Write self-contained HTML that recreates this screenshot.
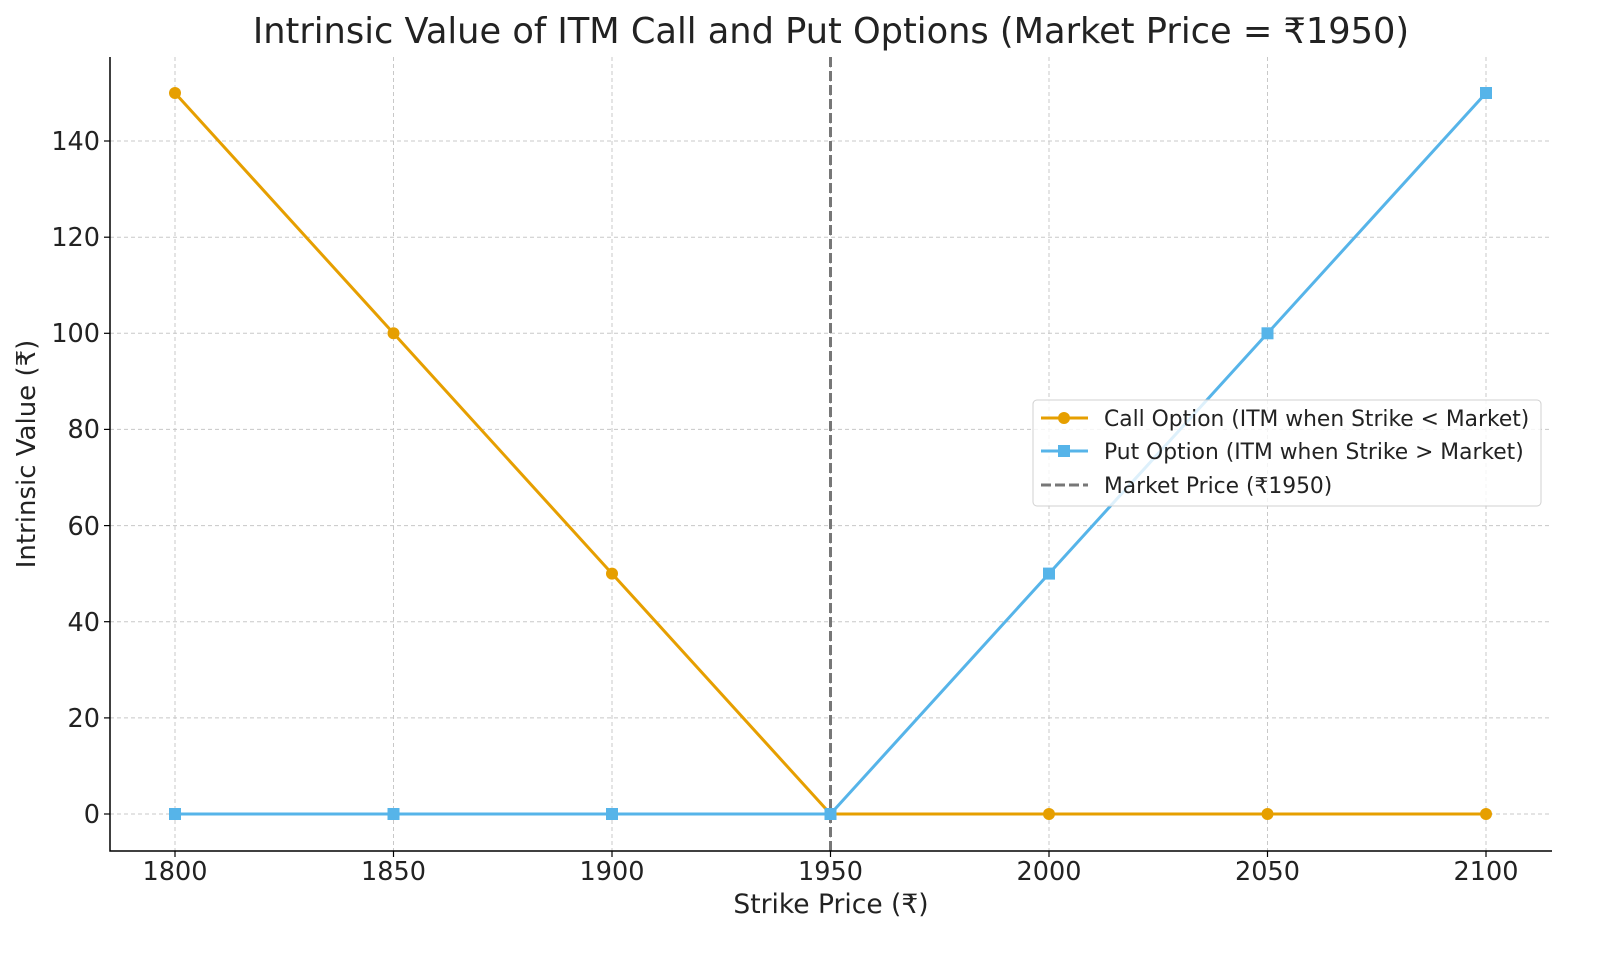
<!DOCTYPE html>
<html><head><meta charset="utf-8"><style>body{margin:0;background:#fff}svg{display:block}text{font-family:"DejaVu Sans","Liberation Sans",sans-serif;fill:#222}</style></head><body>
<svg width="1600" height="954" xmlns="http://www.w3.org/2000/svg">
<g stroke="#c8c8c8" stroke-width="1" stroke-dasharray="4,3">
<line x1="175" y1="57" x2="175" y2="851"/><line x1="393.5" y1="57" x2="393.5" y2="851"/><line x1="612" y1="57" x2="612" y2="851"/><line x1="830.5" y1="57" x2="830.5" y2="851"/><line x1="1049" y1="57" x2="1049" y2="851"/><line x1="1267.5" y1="57" x2="1267.5" y2="851"/><line x1="1486" y1="57" x2="1486" y2="851"/>
<line x1="110" y1="814" x2="1552" y2="814"/><line x1="110" y1="717.9" x2="1552" y2="717.9"/><line x1="110" y1="621.7" x2="1552" y2="621.7"/><line x1="110" y1="525.6" x2="1552" y2="525.6"/><line x1="110" y1="429.4" x2="1552" y2="429.4"/><line x1="110" y1="333.3" x2="1552" y2="333.3"/><line x1="110" y1="237.2" x2="1552" y2="237.2"/><line x1="110" y1="141" x2="1552" y2="141"/>
</g>
<line x1="830.5" y1="57" x2="830.5" y2="851" stroke="#777" stroke-width="3" stroke-dasharray="10,4"/>
<polyline fill="none" stroke="#E69F00" stroke-width="3" points="175,93 393.5,333.3 612,573.6 830.5,814 1049,814 1267.5,814 1486,814"/>
<g fill="#E69F00"><circle cx="175" cy="93" r="6"/><circle cx="393.5" cy="333.3" r="6"/><circle cx="612" cy="573.6" r="6"/><circle cx="830.5" cy="814" r="6"/><circle cx="1049" cy="814" r="6"/><circle cx="1267.5" cy="814" r="6"/><circle cx="1486" cy="814" r="6"/></g>
<polyline fill="none" stroke="#56B4E9" stroke-width="3" points="175,814 393.5,814 612,814 830.5,814 1049,573.6 1267.5,333.3 1486,93"/>
<g fill="#56B4E9"><rect x="169" y="808" width="12" height="12"/><rect x="387.5" y="808" width="12" height="12"/><rect x="606" y="808" width="12" height="12"/><rect x="824.5" y="808" width="12" height="12"/><rect x="1043" y="567.6" width="12" height="12"/><rect x="1261.5" y="327.3" width="12" height="12"/><rect x="1480" y="87" width="12" height="12"/></g>
<polyline fill="none" stroke="#000" stroke-width="1.5" points="110,57 110,851 1552,851"/>
<g stroke="#000" stroke-width="1.2">
<line x1="175" y1="851" x2="175" y2="857"/><line x1="393.5" y1="851" x2="393.5" y2="857"/><line x1="612" y1="851" x2="612" y2="857"/><line x1="830.5" y1="851" x2="830.5" y2="857"/><line x1="1049" y1="851" x2="1049" y2="857"/><line x1="1267.5" y1="851" x2="1267.5" y2="857"/><line x1="1486" y1="851" x2="1486" y2="857"/>
<line x1="104" y1="814" x2="110" y2="814"/><line x1="104" y1="717.9" x2="110" y2="717.9"/><line x1="104" y1="621.7" x2="110" y2="621.7"/><line x1="104" y1="525.6" x2="110" y2="525.6"/><line x1="104" y1="429.4" x2="110" y2="429.4"/><line x1="104" y1="333.3" x2="110" y2="333.3"/><line x1="104" y1="237.2" x2="110" y2="237.2"/><line x1="104" y1="141" x2="110" y2="141"/>
</g>
<g font-size="25.5" text-anchor="middle">
<text x="175" y="880">1800</text><text x="393.5" y="880">1850</text><text x="612" y="880">1900</text><text x="830.5" y="880">1950</text><text x="1049" y="880">2000</text><text x="1267.5" y="880">2050</text><text x="1486" y="880">2100</text>
</g>
<g font-size="25.5" text-anchor="end">
<text x="100" y="823">0</text><text x="100" y="727">20</text><text x="100" y="631">40</text><text x="100" y="535">60</text><text x="100" y="438">80</text><text x="100" y="342">100</text><text x="100" y="246">120</text><text x="100" y="150">140</text>
</g>
<text x="831" y="913" font-size="26.5" text-anchor="middle">Strike Price (₹)</text>
<text transform="translate(35,454) rotate(-90)" font-size="26" text-anchor="middle">Intrinsic Value (₹)</text>
<text x="831" y="43" font-size="35.2" text-anchor="middle">Intrinsic Value of ITM Call and Put Options (Market Price = ₹1950)</text>
<rect x="1033" y="400" width="508" height="106" rx="4" fill="#fff" fill-opacity="0.8" stroke="#d0d0d0"/>
<line x1="1041" y1="418" x2="1088" y2="418" stroke="#E69F00" stroke-width="3"/><circle cx="1064" cy="418" r="6" fill="#E69F00"/>
<line x1="1041" y1="451" x2="1088" y2="451" stroke="#56B4E9" stroke-width="3"/><rect x="1058" y="445" width="12" height="12" fill="#56B4E9"/>
<line x1="1041" y1="485" x2="1088" y2="485" stroke="#777" stroke-width="3" stroke-dasharray="10,4"/>
<g font-size="21.8"><text x="1104" y="426">Call Option (ITM when Strike &lt; Market)</text><text x="1104" y="459">Put Option (ITM when Strike &gt; Market)</text><text x="1104" y="493">Market Price (₹1950)</text></g>
</svg>
</body></html>
